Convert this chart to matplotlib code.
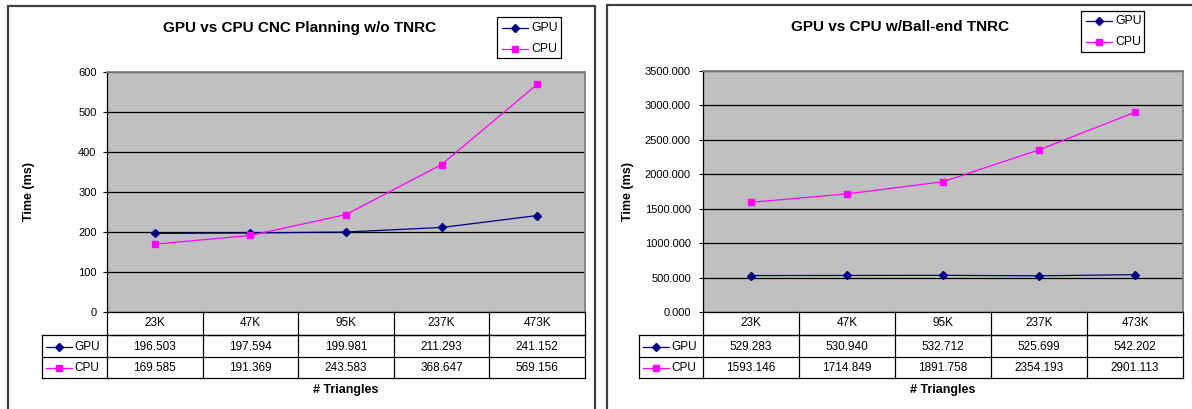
import matplotlib
matplotlib.use("Agg")
import matplotlib.pyplot as plt
from matplotlib.lines import Line2D
from matplotlib.patches import Rectangle
from matplotlib.transforms import blended_transform_factory

plt.rcParams['font.family'] = ['Liberation Sans', 'DejaVu Sans']

categories = ["23K", "47K", "95K", "237K", "473K"]
series_names = ["GPU", "CPU"]

gpu_no_tnrc = [196.503, 197.594, 199.981, 211.293, 241.152]
cpu_no_tnrc = [169.585, 191.369, 243.583, 368.647, 569.156]
yticks_no_tnrc = [0, 100, 200, 300, 400, 500, 600]

gpu_ball = [529.283, 530.940, 532.712, 525.699, 542.202]
cpu_ball = [1593.146, 1714.849, 1891.758, 2354.193, 2901.113]
yticks_ball = [0, 500, 1000, 1500, 2000, 2500, 3000, 3500]

titles = ["GPU vs CPU CNC Planning w/o TNRC", "GPU vs CPU w/Ball-end TNRC"]

W, H = 1192, 409
fig = plt.figure(figsize=(W / 100, H / 100), dpi=100)

def frect(x0, y0, x1, y1):
    return [x0 / W, 1 - y1 / H, (x1 - x0) / W, (y1 - y0) / H]

def fx(px):
    return px / W

def fy(py):
    return 1 - py / H

GPU_C = "#000080"
CPU_C = "#FF00FF"
styles = [dict(color=GPU_C, marker="D", markersize=4.0, lw=0.9),
          dict(color=CPU_C, marker="s", markersize=4.4, lw=0.9)]

# outer chart frames
fig.add_artist(Rectangle((fx(8), fy(420)), fx(595 - 8), (420 - 6) / H,
                         transform=fig.transFigure, fill=False, edgecolor="#404040", lw=1.6))
fig.add_artist(Rectangle((fx(607), fy(420)), fx(1210 - 607), (420 - 5) / H,
                         transform=fig.transFigure, fill=False, edgecolor="#404040", lw=1.6))

configs = [
    dict(rect=(107, 72, 585, 312), data=[gpu_no_tnrc, cpu_no_tnrc], yticks=yticks_no_tnrc,
         fmt="{:.0f}", tfmt="{:.3f}", title_x=300, title_y=28, leg=(497, 17, 561, 58),
         leg_rows=(28, 49), tab_left=42, ylab_x=29, pad=4.3),
    dict(rect=(703, 71, 1183, 312), data=[gpu_ball, cpu_ball], yticks=yticks_ball,
         fmt="{:.3f}", tfmt="{:.3f}", title_x=900, title_y=27, leg=(1081, 11, 1144, 52),
         leg_rows=(21, 42), tab_left=639, ylab_x=628, pad=5.5),
]

row_y = [312, 335, 357, 378]

for k, cfg in enumerate(configs):
    x0, y0, x1, y1 = cfg["rect"]
    ax = fig.add_axes(frect(x0, y0, x1, y1))
    ax.set_facecolor("#C0C0C0")
    xs = list(range(len(categories)))
    lines = []
    for vals, st, name in zip(cfg["data"], styles, series_names):
        ln, = ax.plot(xs, vals, color=st["color"], marker=st["marker"], markersize=st["markersize"],
                      lw=st["lw"], markeredgecolor=st["color"], markerfacecolor=st["color"], zorder=3,
                      label=name)
        lines.append(ln)
    ax.set_xlim(-0.5, len(categories) - 0.5)
    ax.set_ylim(cfg["yticks"][0], cfg["yticks"][-1])
    ax.set_yticks(cfg["yticks"])
    ax.set_yticklabels([cfg["fmt"].format(t) for t in cfg["yticks"]])
    ax.set_xticks([])
    ax.set_axisbelow(True)
    ax.yaxis.grid(True, color="black", lw=0.9)
    ax.tick_params(axis="y", direction="out", length=3.2, width=0.8, labelsize=8, pad=cfg["pad"])
    for s in ["top", "right"]:
        ax.spines[s].set_color("#808080")
        ax.spines[s].set_linewidth(1.3)
    for s in ["left", "bottom"]:
        ax.spines[s].set_color("black")
        ax.spines[s].set_linewidth(0.9)

    # data table below
    trans = blended_transform_factory(ax.transData, fig.transFigure)
    n = len(categories)
    tl = cfg["tab_left"]
    lkw = dict(color="black", lw=0.9, clip_on=False)
    fig.add_artist(Line2D([-0.5, n - 0.5], [fy(row_y[1])] * 2, transform=trans, **lkw))
    for ry in row_y[1:]:
        fig.add_artist(Line2D([fx(tl), fx(x0)], [fy(ry)] * 2, transform=fig.transFigure, **lkw))
        fig.add_artist(Line2D([-0.5, n - 0.5], [fy(ry)] * 2, transform=trans, **lkw))
    for i in range(n + 1):
        fig.add_artist(Line2D([i - 0.5, i - 0.5], [fy(row_y[0]), fy(row_y[-1])], transform=trans, **lkw))
    fig.add_artist(Line2D([fx(tl), fx(tl)], [fy(row_y[1]), fy(row_y[-1])], transform=fig.transFigure, **lkw))
    for i, c in enumerate(categories):
        t = fig.text(0, 0, c, transform=trans, ha="center", va="center", fontsize=8.5)
        t.set_position((i, fy((row_y[0] + row_y[1]) / 2)))
    for r, (vals, st, name) in enumerate(zip(cfg["data"], styles, series_names)):
        cy = fy((row_y[r + 1] + row_y[r + 2]) / 2 + 0.5)
        for i, v in enumerate(vals):
            t = fig.text(0, 0, cfg["tfmt"].format(v), transform=trans, ha="center", va="center", fontsize=8.5)
            t.set_position((i, cy))
        lx0 = tl + 4
        lx1 = tl + 30
        fig.add_artist(Line2D([fx(lx0), fx((lx0 + lx1) / 2), fx(lx1)], [cy] * 3, transform=fig.transFigure,
                              color=st["color"], lw=st["lw"], marker=st["marker"], markersize=st["markersize"],
                              markevery=[1], markerfacecolor=st["color"], markeredgecolor=st["color"]))
        fig.text(fx(lx1 + 2), cy, name, ha="left", va="center", fontsize=8.5)

    # legend box
    lx0, ly0, lx1, ly1 = cfg["leg"]
    fig.add_artist(Rectangle((fx(lx0), fy(ly1)), fx(lx1 - lx0), (ly1 - ly0) / H, transform=fig.transFigure,
                             fill=False, edgecolor="black", lw=0.9))
    for ln, ry, name in zip(lines, cfg["leg_rows"], series_names):
        a, b = lx0 + 5, lx0 + 31
        fig.add_artist(Line2D([fx(a), fx((a + b) / 2), fx(b)], [fy(ry)] * 3, transform=fig.transFigure,
                              color=ln.get_color(), lw=ln.get_linewidth(), marker=ln.get_marker(),
                              markersize=ln.get_markersize(), markevery=[1],
                              markerfacecolor=ln.get_color(), markeredgecolor=ln.get_color()))
        fig.text(fx(b + 3), fy(ry), name, ha="left", va="center", fontsize=8.8)

    fig.text(fx(cfg["title_x"]), fy(cfg["title_y"]), titles[k], ha="center", va="center",
             fontsize=11, fontweight="bold")
    fig.text(fx(cfg["ylab_x"]), fy((y0 + y1) / 2), "Time (ms)", rotation=90, ha="center", va="center",
             fontsize=9, fontweight="bold")
    fig.text(fx((x0 + x1) / 2), fy(390), "# Triangles", ha="center", va="center",
             fontsize=9, fontweight="bold")

fig.savefig("out.png", dpi=100, facecolor="white")
